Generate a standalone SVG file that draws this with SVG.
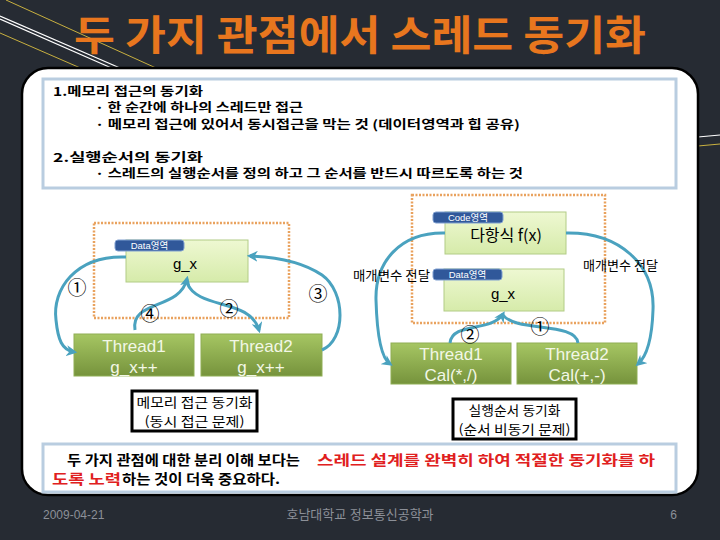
<svg xmlns="http://www.w3.org/2000/svg" width="720" height="540" viewBox="0 0 720 540">
<defs>
<style>
.kb{font-family:"Noto Sans CJK KR","Noto Sans",sans-serif;font-weight:bold;font-size:12px;fill:#000}
.kn{font-family:"Noto Sans CJK KR","Noto Sans",sans-serif;font-size:13px;fill:#000}
.th{font-family:"Liberation Sans","Noto Sans CJK KR",sans-serif;font-size:17px;fill:#f2f7e6;text-anchor:middle}
.lb{font-family:"Liberation Sans","Noto Sans CJK KR",sans-serif;font-size:9.5px;fill:#fff}
.num{font-family:"Noto Sans CJK KR","DejaVu Sans",sans-serif;font-size:19px;fill:#000;text-anchor:middle}
.ft{font-family:"Liberation Sans","Noto Sans CJK KR",sans-serif;font-size:12px;fill:#8c9098}
.thread{fill:url(#gT);stroke:#8fae55;stroke-width:1}
.mem{fill:url(#gM);stroke:#b2cc86;stroke-width:1}
.tag{fill:#30589a;stroke:#7f9fd0;stroke-width:1}
.dash{fill:none;stroke:#e9a25e;stroke-width:2.5;stroke-dasharray:2 1.5}
.cap{fill:#fff;stroke:#000;stroke-width:3}
.arr{fill:none;stroke:#4aa2bf;stroke-width:3}
.bt{font-family:"Noto Sans CJK KR","Noto Sans",sans-serif;font-weight:bold;font-size:13.5px;fill:#000}
</style>
<linearGradient id="gT" x1="0" y1="0" x2="0" y2="1">
<stop offset="0" stop-color="#a6c663"/><stop offset="1" stop-color="#76933c"/>
</linearGradient>
<linearGradient id="gM" x1="0" y1="0" x2="0" y2="1">
<stop offset="0" stop-color="#eef8d2"/><stop offset="1" stop-color="#d6ebaa"/>
</linearGradient>
<marker id="ah" viewBox="0 0 10 10" refX="7" refY="5" markerWidth="11" markerHeight="11" markerUnits="userSpaceOnUse" orient="auto">
<path d="M0,0 L10,5 L0,10 L3,5 z" fill="#4aa2bf"/>
</marker>
</defs>
<rect width="720" height="540" fill="#262b33"/>
<g id="deco">
<line x1="6" y1="0" x2="156" y2="68" stroke="#c8b040" stroke-width="1"/>
<line x1="0" y1="16" x2="120" y2="68" stroke="#ffffff" stroke-width="1.2"/>
<line x1="0" y1="19" x2="116" y2="70" stroke="#ffffff" stroke-width="1.2"/>
<line x1="0" y1="33" x2="85" y2="70" stroke="#c8b040" stroke-width="1"/>
<line x1="698" y1="137" x2="720" y2="135" stroke="#ffffff" stroke-width="1.2"/>
<line x1="698" y1="146" x2="720" y2="144" stroke="#c8b040" stroke-width="1"/>
</g>
<text x="360" y="50" text-anchor="middle" textLength="572" lengthAdjust="spacingAndGlyphs" style="font-family:'Noto Sans CJK KR','Noto Sans',sans-serif;font-weight:bold;font-size:41px;fill:#e8761e">두 가지 관점에서 스레드 동기화</text>
<rect id="panel" x="22" y="68" width="676" height="427" rx="26" fill="#fff" stroke="#000" stroke-width="2.5"/>
<g id="topbox">
<rect x="43" y="79" width="633" height="109" fill="none" stroke="#b9cde0" stroke-width="3"/>
<text class="kb" x="53" y="96" textLength="150" lengthAdjust="spacingAndGlyphs">1.메모리 접근의 동기화</text>
<text class="kb" x="95" y="112" textLength="208" lengthAdjust="spacingAndGlyphs">·  한 순간에 하나의 스레드만 접근</text>
<text class="kb" x="95" y="129" textLength="425" lengthAdjust="spacingAndGlyphs">·  메모리 접근에 있어서 동시접근을 막는 것 (데이터영역과 힙 공유)</text>
<text class="kb" x="53" y="162" textLength="150" lengthAdjust="spacingAndGlyphs">2.실행순서의 동기화</text>
<text class="kb" x="95" y="178" textLength="428" lengthAdjust="spacingAndGlyphs">·  스레드의 실행순서를 정의 하고 그 순서를 반드시 따르도록 하는 것</text>
</g>
<g id="left-diagram">
<rect class="dash" x="94" y="223" width="195" height="95"/>
<g id="L-data">
<rect class="mem" x="126" y="240" width="122" height="42"/>
<text x="185" y="269" text-anchor="middle" style="font-family:'Liberation Sans',sans-serif;font-size:15px;fill:#000">g_x</text>
<rect class="tag" x="115" y="240" width="69" height="11" rx="3"/>
<text class="lb" x="149.5" y="249" text-anchor="middle">Data영역</text>
</g>
<g id="L-thread1">
<rect class="thread" x="74" y="334" width="120" height="42"/>
<text class="th" x="134" y="352">Thread1</text>
<text class="th" x="134" y="373">g_x++</text>
</g>
<g id="L-thread2">
<rect class="thread" x="201" y="334" width="121" height="42"/>
<text class="th" x="261" y="352">Thread2</text>
<text class="th" x="261" y="373">g_x++</text>
</g>
<g id="L-caption">
<rect class="cap" x="132" y="391" width="125" height="40"/>
<text class="kn" x="194.5" y="407" text-anchor="middle" textLength="116" lengthAdjust="spacingAndGlyphs">메모리 접근 동기화</text>
<text class="kn" x="194.5" y="426" text-anchor="middle" textLength="100" lengthAdjust="spacingAndGlyphs">(동시 접근 문제)</text>
</g>
</g>
<g id="right-diagram">
<rect class="dash" x="412" y="195" width="193" height="128"/>
<g id="R-code">
<rect class="mem" x="445" y="212" width="121" height="42"/>
<text x="506" y="241" text-anchor="middle" style="font-family:'Noto Sans CJK KR',sans-serif;font-size:16px;fill:#000">다항식 f(x)</text>
<rect class="tag" x="433" y="212" width="70" height="11" rx="3"/>
<text class="lb" x="468" y="221" text-anchor="middle">Code영역</text>
</g>
<g id="R-data">
<rect class="mem" x="444" y="269" width="120" height="42"/>
<text x="503" y="299" text-anchor="middle" style="font-family:'Liberation Sans',sans-serif;font-size:15px;fill:#000">g_x</text>
<rect class="tag" x="433" y="269" width="69" height="11" rx="3"/>
<text class="lb" x="467.5" y="278" text-anchor="middle">Data영역</text>
</g>
<g id="R-thread1">
<rect class="thread" x="391" y="343" width="120" height="41"/>
<text class="th" x="451" y="360">Thread1</text>
<text class="th" x="451" y="381">Cal(*,/)</text>
</g>
<g id="R-thread2">
<rect class="thread" x="517" y="343" width="120" height="41"/>
<text class="th" x="577" y="360">Thread2</text>
<text class="th" x="577" y="381">Cal(+,-)</text>
</g>
<g id="R-caption">
<rect class="cap" x="453" y="399" width="123" height="40"/>
<text class="kn" x="514.5" y="415" text-anchor="middle" textLength="92" lengthAdjust="spacingAndGlyphs">실행순서 동기화</text>
<text class="kn" x="514.5" y="434" text-anchor="middle" textLength="112" lengthAdjust="spacingAndGlyphs">(순서 비동기 문제)</text>
</g>
</g>
<g id="connectors">
<path class="arr" d="M126,257 C75,255 52,290 56,320 C58,340 62,350 74,352" marker-end="url(#ah)"/>
<path class="arr" d="M135,330 C130,300 180,310 187,279" marker-end="url(#ah)"/>
<path class="arr" d="M187,283 C198,310 250,298 259,330" marker-end="url(#ah)"/>
<path class="arr" d="M322,350 C346,340 346,292 322,275 C303,262 275,257 250,256" marker-end="url(#ah)"/>
<path class="arr" d="M445,233 C400,232 375,262 376,300 C377,335 381,358 390,364" marker-end="url(#ah)"/>
<path class="arr" d="M566,233 C620,232 655,265 653,310 C652,340 646,357 638,364" marker-end="url(#ah)"/>
<path class="arr" d="M578,343 C576,322 515,332 503,315"/>
<path class="arr" d="M450,343 C452,322 492,332 503,314" marker-end="url(#ah)"/>
<text class="num" x="77" y="295">①</text>
<text class="num" x="150" y="321">④</text>
<text class="num" x="229" y="316">②</text>
<text class="num" x="318" y="301">③</text>
<text class="num" x="470" y="342">②</text>
<text class="num" x="540" y="334">①</text>
<text class="kn" x="353" y="280" textLength="77" lengthAdjust="spacingAndGlyphs">매개변수 전달</text>
<text class="kn" x="583" y="270" textLength="75" lengthAdjust="spacingAndGlyphs">매개변수 전달</text>
</g>
<g id="bottombox">
<rect x="43" y="444" width="633" height="48" fill="none" stroke="#b9cde0" stroke-width="3"/>
<text class="bt" x="67" y="465" textLength="233" lengthAdjust="spacingAndGlyphs">두 가지 관점에 대한 분리 이해 보다는</text>
<text class="bt" x="317" y="465" style="fill:#e02020" textLength="338" lengthAdjust="spacingAndGlyphs">스레드 설계를 완벽히 하여 적절한 동기화를 하</text>
<text class="bt" x="52" y="484" style="fill:#e02020" textLength="69" lengthAdjust="spacingAndGlyphs">도록 노력</text>
<text class="bt" x="122" y="484" textLength="158" lengthAdjust="spacingAndGlyphs">하는 것이 더욱 중요하다.</text>
</g>
<g id="footer">
<text class="ft" x="43" y="519">2009-04-21</text>
<text class="ft" x="360" y="519" text-anchor="middle" style="font-size:13px">호남대학교 정보통신공학과</text>
<text class="ft" x="677" y="519" text-anchor="end">6</text>
</g>
</svg>
